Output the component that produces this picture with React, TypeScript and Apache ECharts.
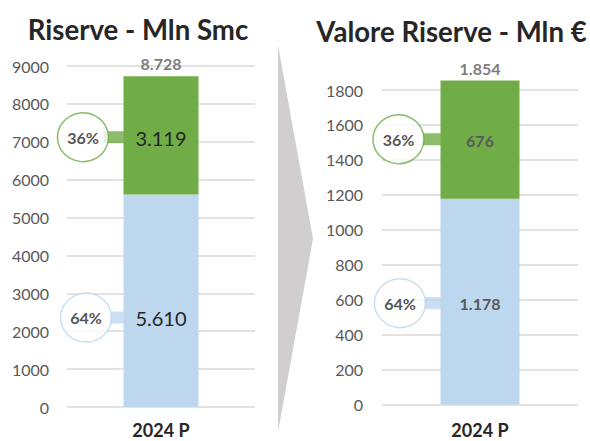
import React, { useEffect, useRef } from "react";
import * as echarts from "echarts";

const categories = ["2024 P"];
const leftBlue = [5610];
const leftGreen = [3119];
const leftTotal = [8728];
const rightBlue = [1178];
const rightGreen = [676];
const rightTotal = [1854];
const shareBlue = ["64%"];
const shareGreen = ["36%"];
// vertical position (axis value) of the share callouts
const leftGreenAnnot = [7120];
const leftBlueAnnot = [2360];
const rightGreenAnnot = [1518];
const rightBlueAnnot = [580];
const leftTicks = { min: 0, max: 9000, interval: 1000 };
const rightTicks = { min: 0, max: 1800, interval: 200 };

const GREEN = "#70AD47";
const BLUE = "#BDD7EE";
const FONT = "Lato";

const fmt = (v: number) => {
  const s = String(Math.round(v));
  return s.replace(/\B(?=(\d{3})+(?!\d))/g, ".");
};

export default function App() {
  const ref = useRef<HTMLDivElement>(null);
  useEffect(() => {
    if (!ref.current) return;
    const chart = echarts.init(ref.current, null, { renderer: "svg" });

    const yAxisBase = (gi: number, t: any, margin: number) => ({
      type: "value",
      gridIndex: gi,
      min: t.min,
      max: t.max,
      interval: t.interval,
      axisLine: { show: false },
      axisTick: { show: false },
      axisLabel: {
        color: "#595959",
        fontSize: 16,
        fontFamily: FONT,
        margin,
        formatter: (v: number) => String(v),
      },
      splitLine: { lineStyle: { color: "#D9D9D9", width: 1.5 } },
    });
    const xAxisBase = (gi: number, margin: number) => ({
      type: "category",
      gridIndex: gi,
      data: categories,
      axisLine: { show: false },
      axisTick: { show: false },
      axisLabel: {
        color: "#262626",
        fontSize: 18,
        lineHeight: 16,
        fontWeight: "bold",
        fontFamily: FONT,
        margin,
      },
    });

    const makeSeries = (
      gi: number,
      blue: number[],
      green: number[],
      total: number[],
      gAnnot: number[],
      bAnnot: number[],
      barWidth: number,
      segLabel: any,
      blueOffset: number[],
      greenOffset: number[],
      circ: { g: number; b: number; cg: number; cb: number; cwg: number; cwb: number }
    ) => [
      {
        type: "bar",
        xAxisIndex: gi,
        yAxisIndex: gi,
        stack: "s" + gi,
        barWidth,
        clip: false,
        data: blue,
        itemStyle: { color: BLUE },
        label: { show: true, position: "inside", offset: blueOffset, formatter: (p: any) => fmt(p.value), ...segLabel },
      },
      {
        type: "bar",
        xAxisIndex: gi,
        yAxisIndex: gi,
        stack: "s" + gi,
        barWidth,
        clip: false,
        data: green,
        itemStyle: { color: GREEN },
        label: { show: true, position: "inside", offset: greenOffset, formatter: (p: any) => fmt(p.value), ...segLabel },
      },
      {
        type: "scatter",
        xAxisIndex: gi,
        yAxisIndex: gi,
        symbolSize: 1,
        clip: false,
        itemStyle: { color: "rgba(0,0,0,0)" },
        data: total,
        label: {
          show: true,
          position: "top",
          distance: 4,
          formatter: (p: any) => fmt(p.value),
          color: "#595959",
          fontSize: 16,
          fontWeight: "bold",
          fontFamily: FONT,
        },
        z: 5,
      },
      {
        type: "scatter",
        xAxisIndex: gi,
        yAxisIndex: gi,
        symbol: "rect",
        clip: false,
        z: 1,
        data: [
          { value: [categories[0], gAnnot[0]], symbolSize: [circ.cwg, 12], symbolOffset: [circ.cg, 0], itemStyle: { color: GREEN } },
          { value: [categories[0], bAnnot[0]], symbolSize: [circ.cwb, 12], symbolOffset: [circ.cb, 0], itemStyle: { color: BLUE } },
        ],
      },
      {
        type: "scatter",
        xAxisIndex: gi,
        yAxisIndex: gi,
        symbol: "circle",
        clip: false,
        z: 6,
        data: [
          {
            value: [categories[0], gAnnot[0]],
            symbolSize: [51, 49],
            symbolOffset: [circ.g, 0],
            itemStyle: { color: "#fff", borderColor: GREEN, borderWidth: 1.5 },
            label: { formatter: shareGreen[0] },
          },
          {
            value: [categories[0], bAnnot[0]],
            symbolSize: [51, 49],
            symbolOffset: [circ.b, 0],
            itemStyle: { color: "#fff", borderColor: BLUE, borderWidth: 1.5 },
            label: { formatter: shareBlue[0] },
          },
        ],
        label: {
          show: true,
          position: "inside",
          color: "#262626",
          fontSize: 16,
          fontWeight: "bold",
          fontFamily: FONT,
        },
      },
    ];

    const leftLabel = { color: "#262626", fontSize: 20, fontFamily: FONT };
    const rightLabel = { color: "#595959", fontSize: 16, fontWeight: "bold", fontFamily: FONT };

    chart.setOption({
      animation: false,
      grid: [
        { left: 67, right: 335, top: 66, bottom: 34, containLabel: false },
        { left: 382, right: 12, top: 90, bottom: 36.5, containLabel: false },
      ],
      xAxis: [xAxisBase(0, 15), xAxisBase(1, 17)],
      yAxis: [yAxisBase(0, leftTicks, 18), yAxisBase(1, rightTicks, 19)],
      series: [
        ...makeSeries(0, leftBlue, leftGreen, leftTotal, leftGreenAnnot, leftBlueAnnot, 75, leftLabel, [0, 17], [0, 3], {
          g: -78, b: -75, cg: -47, cb: -44, cwg: 20, cwb: 16,
        }),
        ...makeSeries(1, rightBlue, rightGreen, rightTotal, rightGreenAnnot, rightBlueAnnot, 79, rightLabel, [0, 2], [0, 1], {
          g: -81.5, b: -80, cg: -47.5, cb: -46, cwg: 20, cwb: 20,
        }),
      ],
      graphic: [
        {
          type: "polygon",
          shape: { points: [[278, 45], [313, 239], [278, 432]] },
          style: { fill: "#D0CECE" },
          z: 0,
        },
        {
          type: "text",
          x: 138,
          y: 29,
          style: {
            text: "Riserve - Mln Smc",
            fill: "#262626",
            font: `bold 27.6px ${FONT}`,
            textAlign: "center",
            textVerticalAlign: "middle",
          },
        },
        {
          type: "text",
          x: 451.5,
          y: 31,
          style: {
            text: "Valore Riserve - Mln €",
            fill: "#262626",
            font: `bold 27.6px ${FONT}`,
            textAlign: "center",
            textVerticalAlign: "middle",
          },
        },
      ],
    });
    return () => chart.dispose();
  }, []);
  return <div ref={ref} style={{ position: "fixed", left: 0, top: 0, width: 590, height: 441, background: "#fff" }} />;
}
